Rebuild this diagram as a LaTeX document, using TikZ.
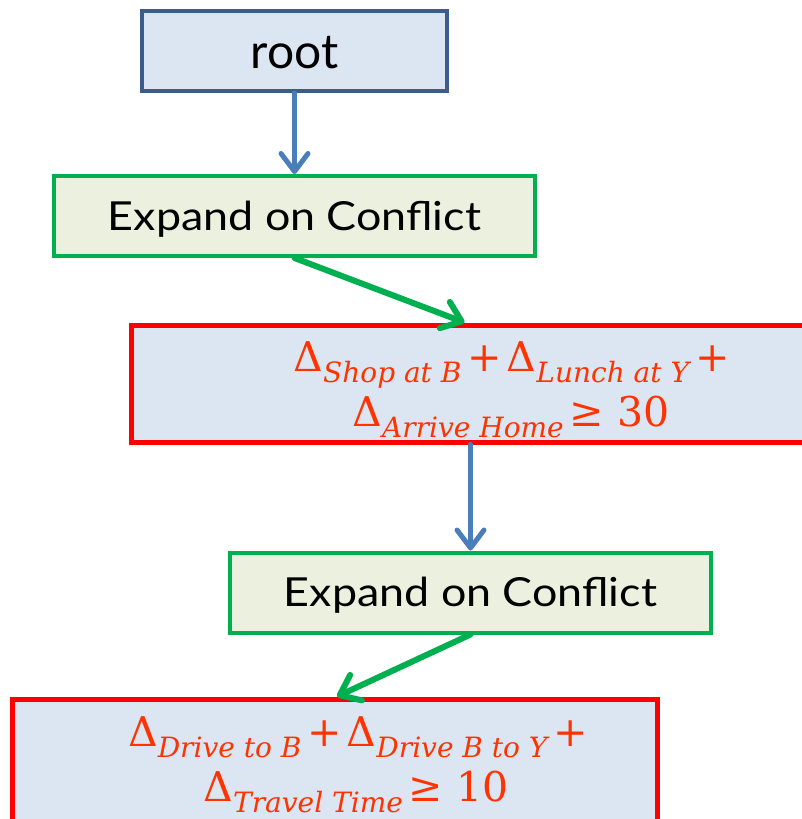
\documentclass[tikz,border=0pt]{standalone}
\usepackage{fontspec}
\setmainfont{Lato}
\newfontfamily\boxfont[FakeStretch=1.12]{Lato}
\newfontfamily\formfont{DejaVu Serif}
\usetikzlibrary{arrows.meta,calc}

\definecolor{rootedge}{HTML}{3A5D8C}
\definecolor{bluefill}{HTML}{DCE6F2}
\definecolor{greenedge}{HTML}{00B050}
\definecolor{greenfill}{HTML}{EBF1DE}
\definecolor{arrowblue}{HTML}{4A7EBB}
\definecolor{formred}{HTML}{FF3300}

% a delta with a lowered italic subscript
\newcommand{\dterm}[1]{Δ\raisebox{-11pt}{\fontsize{28}{28}\selectfont\itshape #1}}
\newcommand{\plusop}{\hspace{6pt}+\hspace{5pt}}

\tikzset{
  box/.style={rectangle, inner sep=0pt, line width=4pt},
  rootbox/.style={box, draw=rootedge, fill=bluefill, minimum width=305pt, minimum height=80pt,
    text height=34pt, text depth=0pt, font=\fontsize{48}{52}\selectfont},
  expandbox/.style={box, draw=greenedge, fill=greenfill, minimum width=481pt, minimum height=80pt,
    text height=28.5pt, text depth=0pt, font=\boxfont\fontsize{40}{44}\selectfont},
  conflictbox/.style={box, draw=red, line width=5pt, fill=bluefill},
  formula/.style={anchor=base, inner sep=0pt, text=formred, font=\formfont\fontsize{41}{44}\selectfont},
  blueflow/.style={draw=arrowblue, line width=5pt, line cap=round,
    -{Straight Barb[length=18pt,width=27pt,round]}},
  greenflow/.style={draw=greenedge, line width=6pt, line cap=round,
    -{Straight Barb[length=18pt,width=28pt,round]}}
}

\begin{document}
\begin{tikzpicture}[x=1pt,y=-1pt]
  \fill[white] (0,0) rectangle (802,819);
  \useasboundingbox (0,0) rectangle (802,819);

  % tree nodes
  \node[rootbox] (root) at (294.5,51) {root};
  \node[expandbox] (exp1) at (294.5,216) {Expand on Conflict};
  \node[conflictbox, minimum width=760pt, minimum height=117pt] (red1) at (511,383.5) {};
  \node[expandbox] (exp2) at (470.5,592.5) {Expand on Conflict};
  \node[conflictbox, minimum width=645pt, minimum height=123pt] (red2) at (334.5,760.5) {};

  % constraint formulas
  \node[formula] (f1a) at (511.5,371) {\dterm{Shop at B}\plusop\dterm{Lunch at Y}\plusop};
  \node[formula] (f1b) at (511,426) {\dterm{Arrive Home}\hspace{6pt}≥ 30};
  \node[formula] (f2a) at (358,746) {\dterm{Drive to B}\plusop\dterm{Drive B to Y}\plusop};
  \node[formula] (f2b) at (356,801) {\dterm{Travel Time}\hspace{6pt}≥ 10};

  % connectors
  \draw[blueflow] (root.south) -- (exp1.north);
  \draw[greenflow] (exp1.south) -- ([xshift=336pt]red1.north west);
  \draw[blueflow] (red1.south -| exp2.north) -- (exp2.north);
  \draw[greenflow] (exp2.south) -- ([xshift=2.5pt]red2.north);
\end{tikzpicture}
\end{document}
